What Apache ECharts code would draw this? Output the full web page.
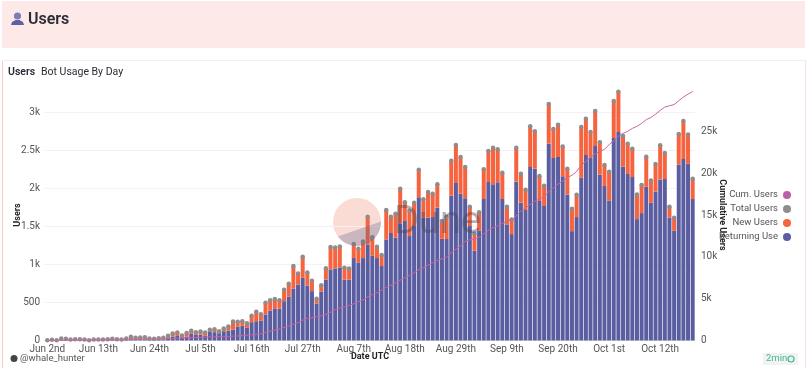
<!DOCTYPE html>
<html>
<head>
<meta charset="utf-8">
<style>html,body{margin:0;padding:0;background:#fff}#c{width:808px;height:368px}</style>
<script src="https://cdn.jsdelivr.net/npm/echarts@6/dist/echarts.min.js"></script>
</head>
<body>
<div id="c"></div>
<script>
const categories = [
"Jun 2nd","Jun 3rd","Jun 4th","Jun 5th","Jun 6th","Jun 7th","Jun 8th","Jun 9th","Jun 10th","Jun 11th","Jun 12th","Jun 13th","Jun 14th","Jun 15th","Jun 16th","Jun 17th","Jun 18th","Jun 19th","Jun 20th","Jun 21st","Jun 22nd","Jun 23rd","Jun 24th","Jun 25th","Jun 26th","Jun 27th","Jun 28th","Jun 29th","Jun 30th",
"Jul 1st","Jul 2nd","Jul 3rd","Jul 4th","Jul 5th","Jul 6th","Jul 7th","Jul 8th","Jul 9th","Jul 10th","Jul 11th","Jul 12th","Jul 13th","Jul 14th","Jul 15th","Jul 16th","Jul 17th","Jul 18th","Jul 19th","Jul 20th","Jul 21st","Jul 22nd","Jul 23rd","Jul 24th","Jul 25th","Jul 26th","Jul 27th","Jul 28th","Jul 29th","Jul 30th","Jul 31st",
"Aug 1st","Aug 2nd","Aug 3rd","Aug 4th","Aug 5th","Aug 6th","Aug 7th","Aug 8th","Aug 9th","Aug 10th","Aug 11th","Aug 12th","Aug 13th","Aug 14th","Aug 15th","Aug 16th","Aug 17th","Aug 18th","Aug 19th","Aug 20th","Aug 21st","Aug 22nd","Aug 23rd","Aug 24th","Aug 25th","Aug 26th","Aug 27th","Aug 28th","Aug 29th","Aug 30th","Aug 31st",
"Sep 1st","Sep 2nd","Sep 3rd","Sep 4th","Sep 5th","Sep 6th","Sep 7th","Sep 8th","Sep 9th","Sep 10th","Sep 11th","Sep 12th","Sep 13th","Sep 14th","Sep 15th","Sep 16th","Sep 17th","Sep 18th","Sep 19th","Sep 20th","Sep 21st","Sep 22nd","Sep 23rd","Sep 24th","Sep 25th","Sep 26th","Sep 27th","Sep 28th","Sep 29th","Sep 30th",
"Oct 1st","Oct 2nd","Oct 3rd","Oct 4th","Oct 5th","Oct 6th","Oct 7th","Oct 8th","Oct 9th","Oct 10th","Oct 11th","Oct 12th","Oct 13th","Oct 14th","Oct 15th","Oct 16th","Oct 17th","Oct 18th","Oct 19th"];

const totalUsers = [
3,9,4,26,22,13,18,18,13,4,
13,13,13,18,22,18,13,26,48,35,
39,44,26,22,31,35,61,92,105,66,
100,127,109,118,105,140,149,122,158,184,
250,245,254,228,324,377,346,495,530,545,
530,666,745,978,881,1101,894,785,548,728,
950,1228,1224,1237,957,948,1268,1207,1303,1628,
1356,1233,1123,1715,1628,1667,1996,1816,1707,1812,
2246,1856,1952,1930,2055,1570,1627,2364,2571,2413,
2281,1759,1408,1685,2250,2492,2535,2513,2206,1759,
1592,2535,2193,1983,2816,2750,2163,2035,3110,2781,
2838,2552,2258,1732,1916,2807,2916,2741,3017,2605,
2307,2219,3149,3272,2688,2587,2522,1921,2044,2416,
2105,2320,2566,2465,1758,1614,2715,2886,2710,2127];

const returningUsers = [
1,3,1,8,6,4,6,5,4,1,
4,4,5,6,8,6,5,10,15,12,
14,16,10,9,12,14,30,52,60,40,
48,87,79,79,61,118,109,96,122,131,
144,184,193,166,241,254,263,342,394,423,
418,517,579,680,737,824,723,649,487,644,
800,935,948,961,799,799,1084,1027,1084,1264,
1119,1084,979,1329,1413,1351,1540,1571,1373,1505,
1882,1614,1614,1623,1746,1338,1334,1904,2071,1930,
1869,1505,1180,1448,1860,2084,2053,2079,1860,1527,
1399,2092,1812,1715,2281,2259,1834,1768,2588,2399,
2413,2160,1921,1438,1623,2140,2438,2399,2557,2180,
2030,1837,2662,2741,2285,2188,2149,1596,1675,2022,
1811,1960,2118,2122,1614,1443,2311,2386,2324,1859];

const cumulativeUsers = [
5,10,12,20,28,32,38,45,50,52,
56,60,64,70,76,82,86,95,110,122,
135,148,155,160,170,180,200,235,275,300,
320,345,365,385,400,415,430,445,460,480,
510,540,580,620,680,740,790,990,1120,1250,
1380,1560,1720,1960,2130,2420,2640,2720,2840,2960,
3120,3370,3680,3880,4020,4190,4390,4650,4850,5220,
5480,5700,6000,6350,6590,6880,7200,7480,7780,8080,
8480,8700,9000,9300,9570,9760,9970,10480,10900,11300,
11850,12030,12150,12320,12760,13160,13500,13700,14000,14200,
14420,14900,15450,15800,16300,16650,16900,17150,17800,18250,
18700,19050,19450,19750,20200,20950,21400,21900,22300,22600,
22850,23400,23900,24400,24750,25000,25350,25600,25950,26400,
26650,27050,27500,27900,28050,28200,28650,29100,29450,29750];

const newUsers = totalUsers.map((t, k) => t - returningUsers[k]);
const FONT = 'Roboto, sans-serif';

const arc = [];
for (let a = -1; a <= 146; a += 6) {
  arc.push([357 + 24 * Math.cos(a * Math.PI / 180), 222 + 24 * Math.sin(a * Math.PI / 180)]);
}

const chart = echarts.init(document.getElementById('c'), null, {renderer: 'canvas'});
chart.setOption({
  animation: false,
  textStyle: {fontFamily: FONT},
  grid: {left: 45, right: 113, top: 89.5, bottom: 27.5, outerBoundsMode: 'none'},
  legend: {
    orient: 'vertical', right: 12, top: 184, align: 'right', itemGap: 2,
    itemWidth: 8, itemHeight: 8, icon: 'circle', selectedMode: false,
    formatter: n => n === 'Returning Users' ? 'Returning Use' : n,
    textStyle: {fontSize: 9.5, color: '#555', fontFamily: FONT, width: 54, align: 'right', lineHeight: 12},
    data: ['Cum. Users', 'Total Users', 'New Users', 'Returning Users']
  },
  xAxis: {
    type: 'category', data: categories,
    axisTick: {show: false},
    axisLine: {lineStyle: {color: '#e6e6e6'}},
    axisLabel: {interval: 10, fontSize: 10, color: '#555', margin: 4, fontFamily: FONT, hideOverlap: false},
    name: 'Date UTC', nameLocation: 'middle', nameGap: 12, nameMoveOverlap: false,
    nameTextStyle: {fontSize: 9, fontWeight: 'bold', color: '#222', fontFamily: FONT}
  },
  yAxis: [{
    type: 'value', min: 0, max: 3300, interval: 500,
    axisLine: {show: false}, axisTick: {show: false},
    splitLine: {show: true, showMaxLine: false, lineStyle: {color: '#f3f1f1', width: 1}},
    axisLabel: {fontSize: 10, color: '#555', margin: 5, fontFamily: FONT, showMaxLabel: false,
      formatter: v => v >= 1000 ? (v / 1000) + 'k' : String(v)},
    name: 'Users', nameLocation: 'middle', nameGap: 23, nameMoveOverlap: false,
    nameTextStyle: {fontSize: 9, fontWeight: 'bold', color: '#222', fontFamily: FONT}
  }, {
    type: 'value', min: 0, max: 30000, interval: 5000, position: 'right',
    axisLine: {show: false}, axisTick: {show: false}, splitLine: {show: false},
    axisLabel: {fontSize: 10, color: '#555', margin: 6, fontFamily: FONT, showMaxLabel: false,
      formatter: v => v >= 1000 ? (v / 1000) + 'k' : String(v)},
    name: 'Cumulative Users', nameLocation: 'middle', nameGap: 23, nameRotate: -90, nameMoveOverlap: false,
    nameTextStyle: {fontSize: 9, fontWeight: 'bold', color: '#222', fontFamily: FONT}
  }],
  series: [
    {name: 'Returning Users', type: 'bar', stack: 'u', data: returningUsers, barCategoryGap: '14%', z: 3,
      itemStyle: {color: '#5a5da0'}},
    {name: 'New Users', type: 'bar', stack: 'u', data: newUsers, barCategoryGap: '14%', z: 3,
      itemStyle: {color: '#f6633f'}},
    {name: 'Total Users', type: 'line', data: totalUsers, symbol: 'circle', symbolSize: 4.5, showAllSymbol: true, z: 5,
      itemStyle: {color: '#8f8c8c'}, lineStyle: {width: 0, opacity: 0}},
    {name: 'Cum. Users', type: 'line', yAxisIndex: 1, data: cumulativeUsers, showSymbol: false, symbol: 'circle', z: 6,
      itemStyle: {color: '#b862a8'}, lineStyle: {color: '#cc64a0', width: 1}}
  ],
  graphic: [
    {type: 'rect', silent: true, z: -10, shape: {x: 2, y: 1, width: 803, height: 47}, style: {fill: '#fdeae8'}},
    {type: 'rect', silent: true, z: -10, shape: {x: 2, y: 60, width: 1, height: 308}, style: {fill: '#f9c9c5'}},
    {type: 'rect', silent: true, z: -10, shape: {x: 2, y: 60, width: 803, height: 1}, style: {fill: '#f6eeee'}},
    {type: 'rect', silent: true, z: -10, shape: {x: 805, y: 60, width: 1, height: 308}, style: {fill: '#f9e3e1'}},
    {type: 'circle', silent: true, z: 10, shape: {cx: 17.5, cy: 16, r: 3.6}, style: {fill: '#7c7cbc'}},
    {type: 'polygon', silent: true, z: 10, shape: {points: [[11,25],[12,22],[15.5,20],[19.5,20],[23,22],[24,25]]}, style: {fill: '#5f5fa6'}},
    {type: 'text', silent: true, z: 10, style: {x: 28, y: 19.5, text: 'Users', fontSize: 16, fontWeight: 600, fill: '#2c2c36', fontFamily: FONT, textVerticalAlign: 'middle'}},
    {type: 'text', silent: true, z: 10, style: {x: 8, y: 72, text: 'Users', fontSize: 10.5, fontWeight: 600, fill: '#2c2c36', fontFamily: FONT, textVerticalAlign: 'middle'}},
    {type: 'text', silent: true, z: 10, style: {x: 41, y: 72, text: 'Bot Usage By Day', fontSize: 10.5, fill: '#2c2c36', fontFamily: FONT, textVerticalAlign: 'middle'}},
    {type: 'circle', silent: true, z: -5, shape: {cx: 357, cy: 222, r: 24}, style: {fill: '#fbdcd5'}},
    {type: 'polygon', silent: true, z: 8, shape: {points: arc}, style: {fill: 'rgba(90,95,140,0.3)'}},
    {type: 'text', silent: true, z: 8, style: {x: 394, y: 223, text: 'Dune', fontSize: 38, fill: 'rgba(70,70,85,0.42)', fontFamily: FONT, textVerticalAlign: 'middle'}},
    {type: 'circle', silent: true, z: 10, shape: {cx: 14, cy: 358.5, r: 3.5}, style: {fill: '#444'}},
    {type: 'text', silent: true, z: 10, style: {x: 20, y: 359, text: '@whale_hunter', fontSize: 9.5, fill: '#555', fontFamily: FONT, textVerticalAlign: 'middle'}},
    {type: 'rect', silent: true, z: 9, shape: {x: 763, y: 353, width: 35, height: 12}, style: {fill: '#f1f3f2'}},
    {type: 'text', silent: true, z: 10, style: {x: 766, y: 359, text: '2min', fontSize: 9.5, fill: '#41b88a', fontFamily: FONT, textVerticalAlign: 'middle'}},
    {type: 'circle', silent: true, z: 10, shape: {cx: 791, cy: 359, r: 3}, style: {fill: 'none', stroke: '#41b88a', lineWidth: 1.2}}
  ]
});
</script>
</body>
</html>
